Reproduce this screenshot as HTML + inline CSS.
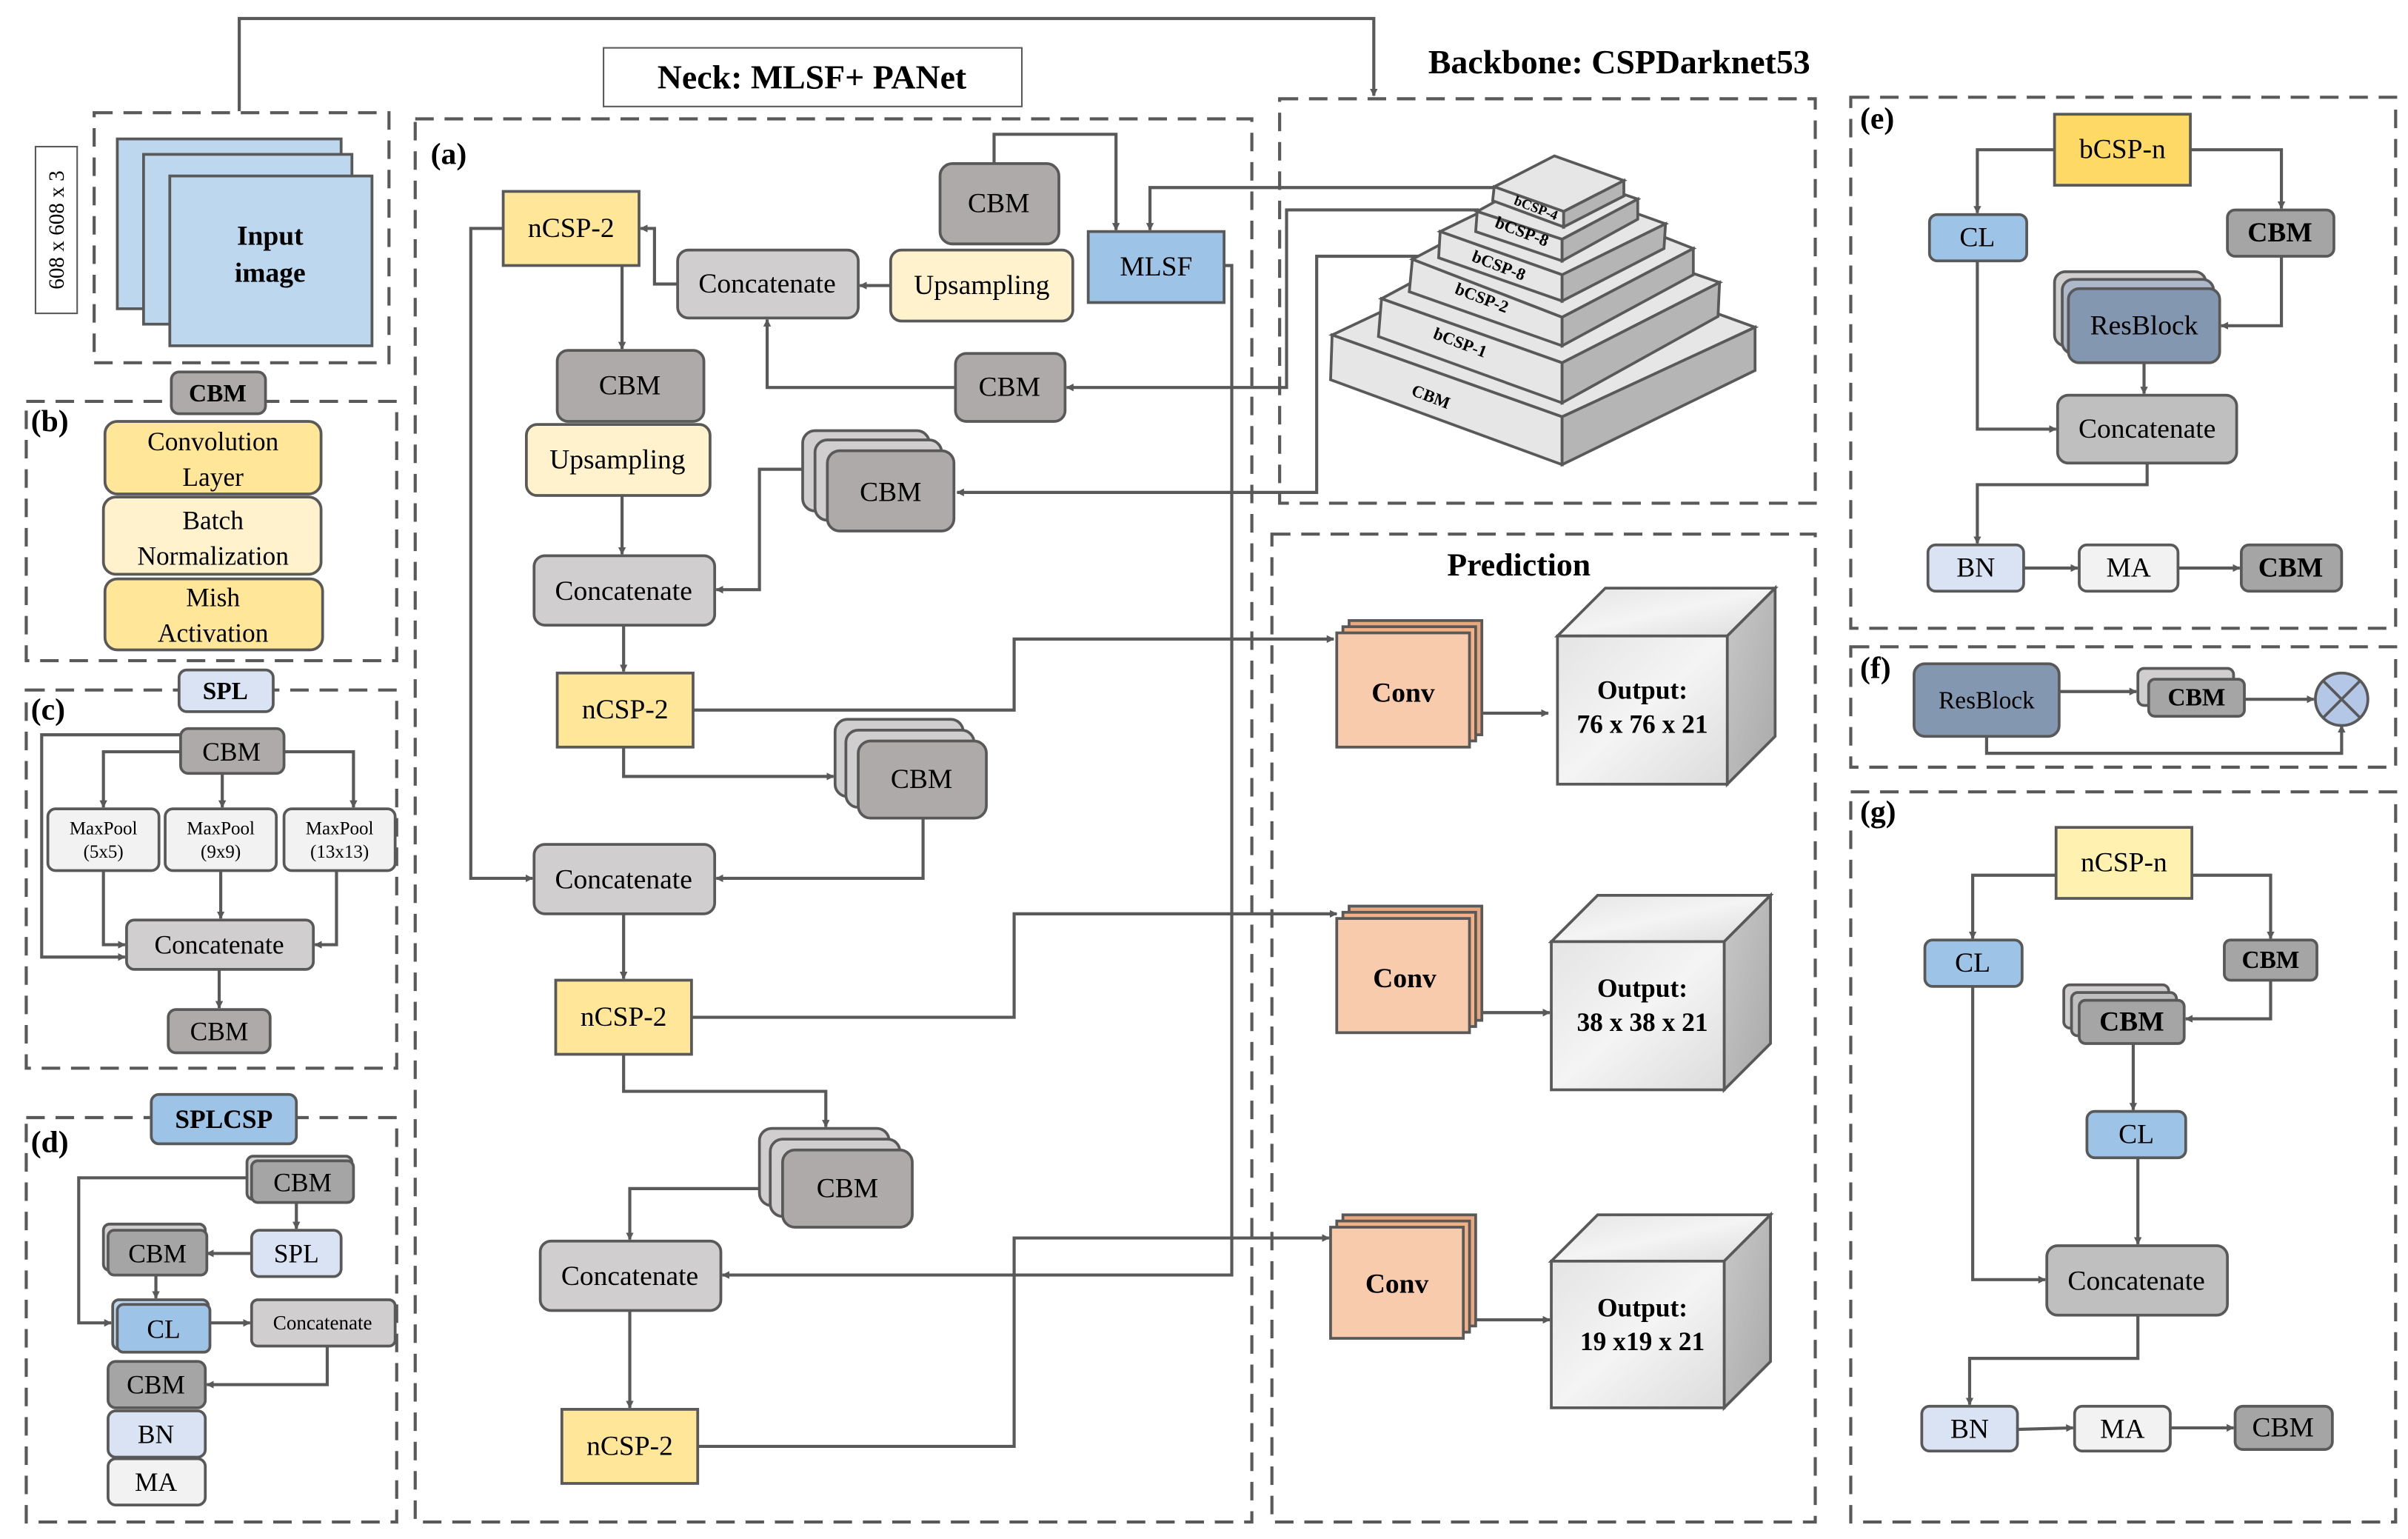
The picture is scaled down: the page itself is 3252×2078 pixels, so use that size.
<!DOCTYPE html>
<html><head><meta charset="utf-8"><style>
html,body{margin:0;padding:0;background:#fff;}
svg{display:block;}
svg text{font-family:"Liberation Serif","Times New Roman",serif;fill:#000;}
</style></head><body>
<svg width="3252" height="2078" viewBox="0 0 1560 997" preserveAspectRatio="none" xmlns="http://www.w3.org/2000/svg" font-family="Liberation Serif, serif">
<defs>
<marker id="a" viewBox="0 0 10 10" refX="9" refY="5" markerWidth="5" markerHeight="5" orient="auto-start-reverse" markerUnits="userSpaceOnUse"><path d="M0,0 L10,5 L0,10 z" fill="#595959"/></marker>
<linearGradient id="mf" x1="0" y1="0" x2="1" y2="1"><stop offset="0" stop-color="#e4e4e4"/><stop offset="0.5" stop-color="#f4f4f4"/><stop offset="1" stop-color="#dcdcdc"/></linearGradient>
<linearGradient id="ms" x1="0" y1="0" x2="1" y2="1"><stop offset="0" stop-color="#c8c8c8"/><stop offset="1" stop-color="#a9a9a9"/></linearGradient>
</defs>
<g fill="none" stroke="#595959" stroke-width="2" stroke-dasharray="12,7">
<rect x="61" y="73" width="191" height="162"/>
<rect x="269" y="77" width="542" height="909"/>
<rect x="829" y="64" width="347" height="262"/>
<rect x="824" y="346" width="352" height="640"/>
<rect x="1199" y="63" width="353" height="344"/>
<rect x="1199" y="419" width="353" height="78"/>
<rect x="1199" y="513" width="353" height="473"/>
<rect x="17" y="260" width="240" height="168"/>
<rect x="17" y="447" width="240" height="245"/>
<rect x="17" y="724" width="240" height="262"/>
</g>
<g fill="none" stroke="#595959" stroke-width="2">
<polyline points="155,72 155,12 890,12 890,62" marker-end="url(#a)"/>
<polyline points="644,106 644,87 723,87 723,149" marker-end="url(#a)"/>
<polyline points="970,121.5 745,121.5 745,149" marker-end="url(#a)"/>
<polyline points="958,136 833.5,136 833.5,251 691,251" marker-end="url(#a)"/>
<polyline points="933,166 853,166 853,319 620,319" marker-end="url(#a)"/>
<polyline points="793,172 798,172 798,826 468,826" marker-end="url(#a)"/>
<line x1="577" y1="185" x2="557" y2="185" marker-end="url(#a)"/>
<polyline points="439,184 424,184 424,148 415,148" marker-end="url(#a)"/>
<polyline points="619,251 497,251 497,207" marker-end="url(#a)"/>
<line x1="403" y1="172" x2="403" y2="226" marker-end="url(#a)"/>
<polyline points="326,148 305,148 305,569 345,569" marker-end="url(#a)"/>
<line x1="403" y1="321" x2="403" y2="359" marker-end="url(#a)"/>
<polyline points="520,304 492,304 492,382 464,382" marker-end="url(#a)"/>
<line x1="404" y1="405" x2="404" y2="435" marker-end="url(#a)"/>
<polyline points="449,460 657,460 657,414 864,414" marker-end="url(#a)"/>
<polyline points="404,484 404,503 540,503" marker-end="url(#a)"/>
<polyline points="598,530 598,569 464,569" marker-end="url(#a)"/>
<line x1="404" y1="592" x2="404" y2="634" marker-end="url(#a)"/>
<polyline points="448,659 657,659 657,592 866,592" marker-end="url(#a)"/>
<polyline points="404,683 404,707 535,707 535,730" marker-end="url(#a)"/>
<polyline points="492,770 408,770 408,803" marker-end="url(#a)"/>
<line x1="408" y1="849" x2="408" y2="912" marker-end="url(#a)"/>
<polyline points="452,937 657,937 657,802 861,802" marker-end="url(#a)"/>
<line x1="960" y1="462" x2="1003" y2="462" marker-end="url(#a)"/>
<line x1="958" y1="656" x2="1004" y2="656" marker-end="url(#a)"/>
<line x1="955" y1="855" x2="1004" y2="855" marker-end="url(#a)"/>
<polyline points="1331,97 1281,97 1281,138" marker-end="url(#a)"/>
<polyline points="1419,97 1478,97 1478,135" marker-end="url(#a)"/>
<polyline points="1478,166 1478,211 1439,211" marker-end="url(#a)"/>
<line x1="1389" y1="235" x2="1389" y2="255" marker-end="url(#a)"/>
<polyline points="1281,169 1281,278 1332,278" marker-end="url(#a)"/>
<polyline points="1391,300 1391,314 1281,314 1281,352" marker-end="url(#a)"/>
<line x1="1311" y1="368" x2="1346" y2="368" marker-end="url(#a)"/>
<line x1="1411" y1="368" x2="1451" y2="368" marker-end="url(#a)"/>
<line x1="1334" y1="448" x2="1384" y2="448" marker-end="url(#a)"/>
<line x1="1454" y1="453" x2="1499" y2="453" marker-end="url(#a)"/>
<polyline points="1287,477 1287,488 1517,488 1517,470" marker-end="url(#a)"/>
<polyline points="1332,567 1278,567 1278,608" marker-end="url(#a)"/>
<polyline points="1420,567 1471,567 1471,608" marker-end="url(#a)"/>
<polyline points="1471,635 1471,660 1416,660" marker-end="url(#a)"/>
<line x1="1382" y1="676" x2="1382" y2="719" marker-end="url(#a)"/>
<line x1="1385" y1="750" x2="1385" y2="806" marker-end="url(#a)"/>
<polyline points="1278,639 1278,829 1325,829" marker-end="url(#a)"/>
<polyline points="1385,852 1385,880 1276,880 1276,910" marker-end="url(#a)"/>
<line x1="1307" y1="926" x2="1343" y2="925" marker-end="url(#a)"/>
<line x1="1406" y1="925" x2="1447" y2="925" marker-end="url(#a)"/>
<polyline points="117,487 67,487 67,523" marker-end="url(#a)"/>
<polyline points="184,487 229,487 229,523" marker-end="url(#a)"/>
<line x1="144" y1="501" x2="144" y2="523" marker-end="url(#a)"/>
<polyline points="117,476 27,476 27,620 81,620" marker-end="url(#a)"/>
<polyline points="67,564 67,612 81,612" marker-end="url(#a)"/>
<line x1="143" y1="564" x2="143" y2="595" marker-end="url(#a)"/>
<polyline points="218,564 218,612 204,612" marker-end="url(#a)"/>
<line x1="142" y1="628" x2="142" y2="653" marker-end="url(#a)"/>
<line x1="192" y1="777" x2="192" y2="796" marker-end="url(#a)"/>
<line x1="163" y1="812" x2="134" y2="812" marker-end="url(#a)"/>
<line x1="101" y1="823" x2="101" y2="841" marker-end="url(#a)"/>
<polyline points="160,763 51,763 51,857 72,857" marker-end="url(#a)"/>
<line x1="135" y1="857" x2="162" y2="857" marker-end="url(#a)"/>
<polyline points="212,872 212,897 134,897" marker-end="url(#a)"/>
</g>
<g stroke="#595959" stroke-width="1.8">
<rect x="76" y="90" width="145" height="110" fill="#bdd7ee"/>
<rect x="93" y="100" width="135" height="110" fill="#bdd7ee"/>
<rect x="110" y="114" width="131" height="110" fill="#bdd7ee"/>
<rect x="23" y="95" width="27" height="108" fill="#fff" stroke-width="1"/>
<rect x="391" y="31" width="271" height="38" fill="#fff" stroke-width="1"/>
<rect x="326" y="124" width="88" height="48" fill="#ffe699"/>
<rect x="439" y="162" width="117" height="44" rx="7" fill="#d0cece"/>
<rect x="577" y="162" width="118" height="46" rx="7" fill="#fff2cc"/>
<rect x="609" y="106" width="77" height="52" rx="8" fill="#aeaaaa"/>
<rect x="705" y="150" width="88" height="46" fill="#9dc3e6"/>
<rect x="361" y="227" width="95" height="46" rx="7" fill="#aeaaaa"/>
<rect x="341" y="275" width="119" height="46" rx="7" fill="#fff2cc"/>
<rect x="619" y="229" width="71" height="44" rx="7" fill="#aeaaaa"/>
<rect x="520" y="279" width="82" height="52" rx="8" fill="#d0cece"/>
<rect x="528" y="285" width="82" height="52" rx="8" fill="#d0cece"/>
<rect x="536" y="292" width="82" height="52" rx="8" fill="#aeaaaa"/>
<rect x="346" y="360" width="117" height="45" rx="7" fill="#d0cece"/>
<rect x="361" y="436" width="88" height="48" fill="#ffe699"/>
<rect x="541" y="466" width="83" height="50" rx="8" fill="#d0cece"/>
<rect x="548" y="473" width="83" height="50" rx="8" fill="#d0cece"/>
<rect x="556" y="480" width="83" height="50" rx="8" fill="#aeaaaa"/>
<rect x="346" y="547" width="117" height="45" rx="7" fill="#d0cece"/>
<rect x="360" y="635" width="88" height="48" fill="#ffe699"/>
<rect x="492" y="731" width="84" height="50" rx="8" fill="#d0cece"/>
<rect x="499" y="738" width="84" height="50" rx="8" fill="#d0cece"/>
<rect x="507" y="745" width="84" height="50" rx="8" fill="#aeaaaa"/>
<rect x="350" y="804" width="117" height="45" rx="7" fill="#d0cece"/>
<rect x="364" y="913" width="88" height="48" fill="#ffe699"/>
<rect x="874" y="402" width="86" height="74" fill="#e9a77f"/>
<rect x="870" y="406" width="86" height="74" fill="#f4b183"/>
<rect x="866" y="410" width="86" height="74" fill="#f8cbad"/>
<rect x="874" y="587" width="86" height="74" fill="#e9a77f"/>
<rect x="870" y="591" width="86" height="74" fill="#f4b183"/>
<rect x="866" y="595" width="86" height="74" fill="#f8cbad"/>
<rect x="870" y="787" width="86" height="72" fill="#e9a77f"/>
<rect x="866" y="791" width="86" height="72" fill="#f4b183"/>
<rect x="862" y="795" width="86" height="72" fill="#f8cbad"/>
<polygon points="1009,412 1040,381 1150,381 1119,412" fill="url(#mf)"/>
<polygon points="1119,412 1150,381 1150,477 1119,508" fill="url(#ms)"/>
<rect x="1009" y="412" width="110" height="96" fill="url(#mf)"/>
<polygon points="1005,610 1035,580 1147,580 1117,610" fill="url(#mf)"/>
<polygon points="1117,610 1147,580 1147,676 1117,706" fill="url(#ms)"/>
<rect x="1005" y="610" width="112" height="96" fill="url(#mf)"/>
<polygon points="1005,817 1035,787 1147,787 1117,817" fill="url(#mf)"/>
<polygon points="1117,817 1147,787 1147,882 1117,912" fill="url(#ms)"/>
<rect x="1005" y="817" width="112" height="95" fill="url(#mf)"/>
<polygon points="863,217 988,158 1137,212 1012,270" fill="#e6e6e6"/>
<polygon points="863,217 1012,270 1012,301 862,246" fill="#e6e6e6"/>
<polygon points="1012,270 1137,212 1137,240 1012,301" fill="#b5b5b5"/>
<polygon points="895,193.5 993,141 1114,183 1012,235" fill="#e6e6e6"/>
<polygon points="895,193.5 1012,235 1012,261 893,218" fill="#e6e6e6"/>
<polygon points="1012,235 1114,183 1113,205 1012,261" fill="#b5b5b5"/>
<polygon points="915,168 1000,123 1097,161 1012,205.5" fill="#e6e6e6"/>
<polygon points="915,168 1012,205.5 1012,224 913,189" fill="#e6e6e6"/>
<polygon points="1012,205.5 1097,161 1097,178 1012,224" fill="#b5b5b5"/>
<polygon points="933,150 1001,117 1079,145 1012,178" fill="#e6e6e6"/>
<polygon points="933,150 1012,178 1012,195 932,167" fill="#e6e6e6"/>
<polygon points="1012,178 1079,145 1078,161 1012,195" fill="#b5b5b5"/>
<polygon points="957,137 1006,110 1061,129 1012,155" fill="#e6e6e6"/>
<polygon points="957,137 1012,155 1012,169 956,150" fill="#e6e6e6"/>
<polygon points="1012,155 1061,129 1061,142 1012,169" fill="#b5b5b5"/>
<polygon points="968,121 1007,101 1052,117 1013,137" fill="#e6e6e6"/>
<polygon points="968,121 1013,137 1013,147 967,130" fill="#e6e6e6"/>
<polygon points="1013,137 1052,117 1052,127 1013,147" fill="#b5b5b5"/>
<rect x="1331" y="74" width="88" height="46" fill="#ffd966"/>
<rect x="1250" y="139" width="63" height="30" rx="5" fill="#9dc3e6"/>
<rect x="1443" y="136" width="69" height="30" rx="5" fill="#a5a5a5"/>
<rect x="1331" y="176" width="98" height="48" rx="7" fill="#d0cece"/>
<rect x="1336" y="181" width="98" height="48" rx="7" fill="#adb9ca"/>
<rect x="1340" y="187" width="98" height="48" rx="7" fill="#8497b0"/>
<rect x="1333" y="256" width="116" height="44" rx="7" fill="#bfbfbf"/>
<rect x="1249" y="353" width="62" height="30" rx="5" fill="#dae3f3"/>
<rect x="1347" y="353" width="64" height="30" rx="5" fill="#f2f2f2"/>
<rect x="1452" y="353" width="65" height="30" rx="5" fill="#a5a5a5"/>
<rect x="1240" y="430" width="94" height="47" rx="7" fill="#8497b0"/>
<rect x="1385" y="433" width="62" height="24" rx="4" fill="#d0cece"/>
<rect x="1392" y="440" width="62" height="24" rx="4" fill="#a5a5a5"/>
<circle cx="1517" cy="453" r="17" fill="#b4c7e7"/>
<line x1="1505" y1="441" x2="1529" y2="465"/><line x1="1529" y1="441" x2="1505" y2="465"/>
<rect x="1332" y="536" width="88" height="46" fill="#fff2b0"/>
<rect x="1247" y="609" width="63" height="30" rx="5" fill="#9dc3e6"/>
<rect x="1441" y="609" width="60" height="26" rx="4" fill="#a5a5a5"/>
<rect x="1337" y="638" width="68" height="28" rx="4" fill="#d0cece"/>
<rect x="1342" y="643" width="68" height="28" rx="4" fill="#bfbfbf"/>
<rect x="1347" y="648" width="68" height="28" rx="4" fill="#a5a5a5"/>
<rect x="1352" y="720" width="64" height="30" rx="5" fill="#9dc3e6"/>
<rect x="1326" y="807" width="117" height="45" rx="7" fill="#bfbfbf"/>
<rect x="1245" y="911" width="62" height="29" rx="5" fill="#dae3f3"/>
<rect x="1344" y="911" width="62" height="29" rx="5" fill="#f2f2f2"/>
<rect x="1448" y="911" width="63" height="28" rx="5" fill="#a5a5a5"/>
<rect x="111" y="241" width="61" height="27" rx="5" fill="#aeaaaa"/>
<rect x="68" y="273" width="140" height="47" rx="8" fill="#ffe699"/>
<rect x="67" y="322" width="141" height="50" rx="8" fill="#fff2cc"/>
<rect x="68" y="375" width="141" height="46" rx="8" fill="#ffe699"/>
<rect x="116" y="434" width="61" height="27" rx="5" fill="#dae3f3"/>
<rect x="117" y="472" width="67" height="29" rx="5" fill="#aeaaaa"/>
<rect x="31" y="524" width="72" height="40" rx="5" fill="#f2f2f2"/>
<rect x="107" y="524" width="72" height="40" rx="5" fill="#f2f2f2"/>
<rect x="184" y="524" width="72" height="40" rx="5" fill="#f2f2f2"/>
<rect x="82" y="596" width="121" height="32" rx="5" fill="#d0cece"/>
<rect x="109" y="654" width="66" height="28" rx="5" fill="#aeaaaa"/>
<rect x="98" y="709" width="94" height="32" rx="5" fill="#9dc3e6"/>
<rect x="160" y="749" width="68" height="28" rx="4" fill="#d0cece"/>
<rect x="163" y="752" width="66" height="27" rx="4" fill="#a5a5a5"/>
<rect x="163" y="797" width="58" height="30" rx="5" fill="#dae3f3"/>
<rect x="67" y="793" width="66" height="30" rx="4" fill="#d0cece"/>
<rect x="70" y="797" width="64" height="29" rx="4" fill="#a5a5a5"/>
<rect x="73" y="842" width="62" height="32" rx="4" fill="#bdd7ee"/>
<rect x="76" y="845" width="60" height="31" rx="4" fill="#9dc3e6"/>
<rect x="163" y="842" width="93" height="30" rx="4" fill="#d0cece"/>
<rect x="70" y="882" width="63" height="30" rx="5" fill="#a5a5a5"/>
<rect x="70" y="914" width="63" height="30" rx="5" fill="#dae3f3"/>
<rect x="70" y="945" width="63" height="30" rx="5" fill="#f2f2f2"/>
</g>
<g font-size="18" text-anchor="middle" dominant-baseline="central" font-family="Liberation Serif, serif">
<text x="175" y="153" font-weight="bold">Input</text>
<text x="175" y="177" font-weight="bold">image</text>
<text x="37" y="149" font-size="14" transform="rotate(-90 37 149)">608 x 608 x 3</text>
<text x="526" y="50" font-size="22" font-weight="bold">Neck: MLSF+ PANet</text>
<text x="1049" y="40" font-size="22" font-weight="bold">Backbone: CSPDarknet53</text>
<text x="984" y="366" font-size="21" font-weight="bold">Prediction</text>
<text x="370" y="148">nCSP-2</text>
<text x="497" y="184">Concatenate</text>
<text x="636" y="185">Upsampling</text>
<text x="647" y="132">CBM</text>
<text x="749" y="173">MLSF</text>
<text x="408" y="250">CBM</text>
<text x="400" y="298">Upsampling</text>
<text x="654" y="251">CBM</text>
<text x="577" y="319">CBM</text>
<text x="404" y="383">Concatenate</text>
<text x="405" y="460">nCSP-2</text>
<text x="597" y="505">CBM</text>
<text x="404" y="570">Concatenate</text>
<text x="404" y="659">nCSP-2</text>
<text x="549" y="770">CBM</text>
<text x="408" y="827">Concatenate</text>
<text x="408" y="937">nCSP-2</text>
<text x="909" y="449" font-weight="bold">Conv</text>
<text x="910" y="634" font-weight="bold">Conv</text>
<text x="905" y="832" font-weight="bold">Conv</text>
<text x="1064" y="447" font-weight="bold" font-size="17">Output:</text>
<text x="1064" y="469" font-weight="bold" font-size="17">76 x 76 x 21</text>
<text x="1064" y="640" font-weight="bold" font-size="17">Output:</text>
<text x="1064" y="662" font-weight="bold" font-size="17">38 x 38 x 21</text>
<text x="1064" y="847" font-weight="bold" font-size="17">Output:</text>
<text x="1064" y="869" font-weight="bold" font-size="17">19 x19 x 21</text>
<g font-weight="bold" font-size="11">
<text x="927" y="257" transform="rotate(21 927 257)">CBM</text>
<text x="946" y="222" transform="rotate(21 946 222)">bCSP-1</text>
<text x="960" y="193" transform="rotate(21 960 193)">bCSP-2</text>
<text x="971" y="172" transform="rotate(21 971 172)">bCSP-8</text>
<text x="986" y="150" transform="rotate(21 986 150)">bCSP-8</text>
<text x="995" y="135" font-size="9" transform="rotate(21 995 135)">bCSP-4</text>
</g>
<g font-weight="bold" font-size="20" text-anchor="start">
<text x="279" y="100">(a)</text>
<text x="20" y="273">(b)</text>
<text x="20" y="460">(c)</text>
<text x="20" y="740">(d)</text>
<text x="1205" y="77">(e)</text>
<text x="1205" y="433">(f)</text>
<text x="1205" y="526">(g)</text>
</g>
<text x="1375" y="97">bCSP-n</text>
<text x="1281" y="154">CL</text>
<text x="1477" y="151" font-weight="bold">CBM</text>
<text x="1389" y="211">ResBlock</text>
<text x="1391" y="278">Concatenate</text>
<text x="1280" y="368">BN</text>
<text x="1379" y="368">MA</text>
<text x="1484" y="368" font-weight="bold">CBM</text>
<text x="1287" y="454" font-size="16">ResBlock</text>
<text x="1423" y="452" font-size="16" font-weight="bold">CBM</text>
<text x="1376" y="559">nCSP-n</text>
<text x="1278" y="624">CL</text>
<text x="1471" y="622" font-size="16" font-weight="bold">CBM</text>
<text x="1381" y="662" font-weight="bold">CBM</text>
<text x="1384" y="735">CL</text>
<text x="1384" y="830">Concatenate</text>
<text x="1276" y="926">BN</text>
<text x="1375" y="926">MA</text>
<text x="1479" y="925">CBM</text>
<text x="141" y="255" font-size="16" font-weight="bold">CBM</text>
<text x="138" y="286" font-size="17">Convolution</text>
<text x="138" y="309" font-size="17">Layer</text>
<text x="138" y="337" font-size="17">Batch</text>
<text x="138" y="360" font-size="17">Normalization</text>
<text x="138" y="387" font-size="17">Mish</text>
<text x="138" y="410" font-size="17">Activation</text>
<text x="146" y="448" font-size="16" font-weight="bold">SPL</text>
<text x="150" y="487" font-size="17">CBM</text>
<g font-size="12"><text x="67" y="537">MaxPool</text><text x="67" y="552">(5x5)</text>
<text x="143" y="537">MaxPool</text><text x="143" y="552">(9x9)</text>
<text x="220" y="537">MaxPool</text><text x="220" y="552">(13x13)</text></g>
<text x="142" y="612" font-size="17">Concatenate</text>
<text x="142" y="668" font-size="17">CBM</text>
<text x="145" y="725" font-size="17" font-weight="bold">SPLCSP</text>
<text x="196" y="766" font-size="17">CBM</text>
<text x="192" y="812" font-size="17">SPL</text>
<text x="102" y="812" font-size="17">CBM</text>
<text x="106" y="861" font-size="17">CL</text>
<text x="209" y="857" font-size="13">Concatenate</text>
<text x="101" y="897" font-size="17">CBM</text>
<text x="101" y="929" font-size="17">BN</text>
<text x="101" y="960" font-size="17">MA</text>
</g>
</svg>
</body></html>
